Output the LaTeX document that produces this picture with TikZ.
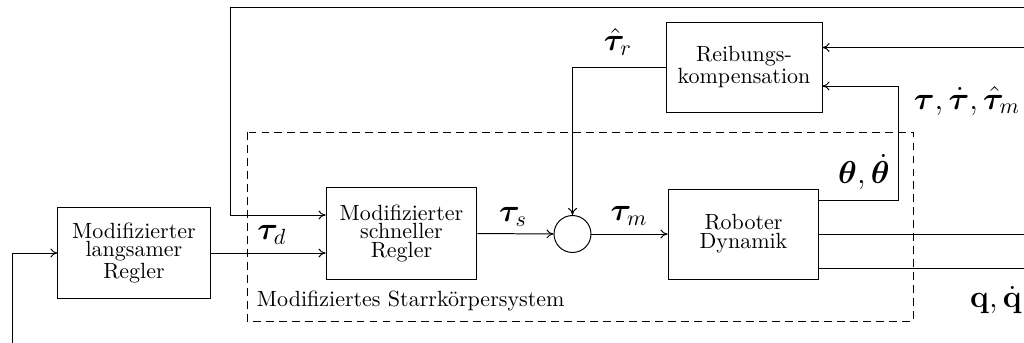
\documentclass[tikz,border=0pt]{standalone}
\usepackage{amsmath,bm}
\usetikzlibrary{arrows.meta,calc}
\begin{document}
\begin{tikzpicture}[x=0.4545pt,y=-0.4545pt,
  >={To[length=3.2pt,width=4pt]},
  line width=0.45pt,
  block/.style={draw, align=center, inner sep=0pt, font=\fontsize{10}{8.6}\selectfont},
  sumnode/.style={draw, circle, minimum size=16.8pt, inner sep=0pt},
  lbl/.style={inner sep=0pt, font=\fontsize{14}{17}\selectfont},
  sysbox/.style={dash pattern=on 3.6pt off 2.3pt}]
\useasboundingbox (0,0) rectangle (1024,343);
% blocks
\node[block, minimum width=69.1pt, minimum height=41.4pt] (slow) at (134,253) {Modifizierter\\langsamer\\Regler};
\node[block, minimum width=68.6pt, minimum height=41.4pt] (fast) at (401.5,233.5) {Modifizierter\\schneller\\Regler};
\node[block, minimum width=70.9pt, minimum height=40.9pt] (reib) at (744,67) {Reibungs-\\kompensation};
\node[block, minimum width=68.6pt, minimum height=40.9pt] (robot) at (743.5,234) {Roboter\\Dynamik};
\node[sumnode] (sum) at (572.5,234) {};
% dashed system frame
\draw[sysbox] (247,132) rectangle (913,321);
\node[anchor=west, inner sep=0pt, font=\fontsize{10}{12}\selectfont] (systxt) at (256.5,301) {Modifiziertes Starrkörpersystem};
% free ends / bends
\coordinate (in) at (12,343);
\coordinate (fbR) at (1024,7);
\coordinate (fbC) at (230,7);
\coordinate (fbD) at (230,215);
\coordinate (tauR) at (1024,47.5);
\coordinate (thB) at (898,200);
\coordinate (q1) at (1024,234);
\coordinate (q2) at (1024,268);
% connectors
\draw[->] (in) |- (slow.west);
\draw[->] (slow.east) -- (slow.east -| fast.west);
\draw[->] (fbR) -- (fbC) -- (fbD) -- (fbD -| fast.west);
\draw[->] (fast.east) -- (sum.west);
\draw[->] (sum.east) -- (sum.east -| robot.west);
\draw[->] (reib.west) -| (sum.north);
\draw[->] (tauR) -- (tauR -| reib.east);
\draw[->] (thB -| robot.east) -- (thB) -- ($(thB |- reib.east)+(0,19)$) -- ($(reib.east)+(0,19)$);
\draw (q1 -| robot.east) -- (q1);
\draw (q2 -| robot.east) -- (q2);
% labels
\node[lbl] (ltd) at (272,235) {$\bm{\tau}_d$};
\node[lbl] (lts) at (513,217) {$\bm{\tau}_s$};
\node[lbl] (ltm) at (629,216) {$\bm{\tau}_m$};
\node[lbl] (ltr) at (618,42) {$\hat{\bm{\tau}}_r$};
\node[lbl] (lth) at (864,172) {$\bm{\theta},\dot{\bm{\theta}}$};
\node[lbl] (ltt) at (967,101) {$\bm{\tau},\dot{\bm{\tau}},\hat{\bm{\tau}}_m$};
\node[lbl] (lq) at (996,300) {$\mathbf{q},\dot{\mathbf{q}}$};
\end{tikzpicture}
\end{document}
